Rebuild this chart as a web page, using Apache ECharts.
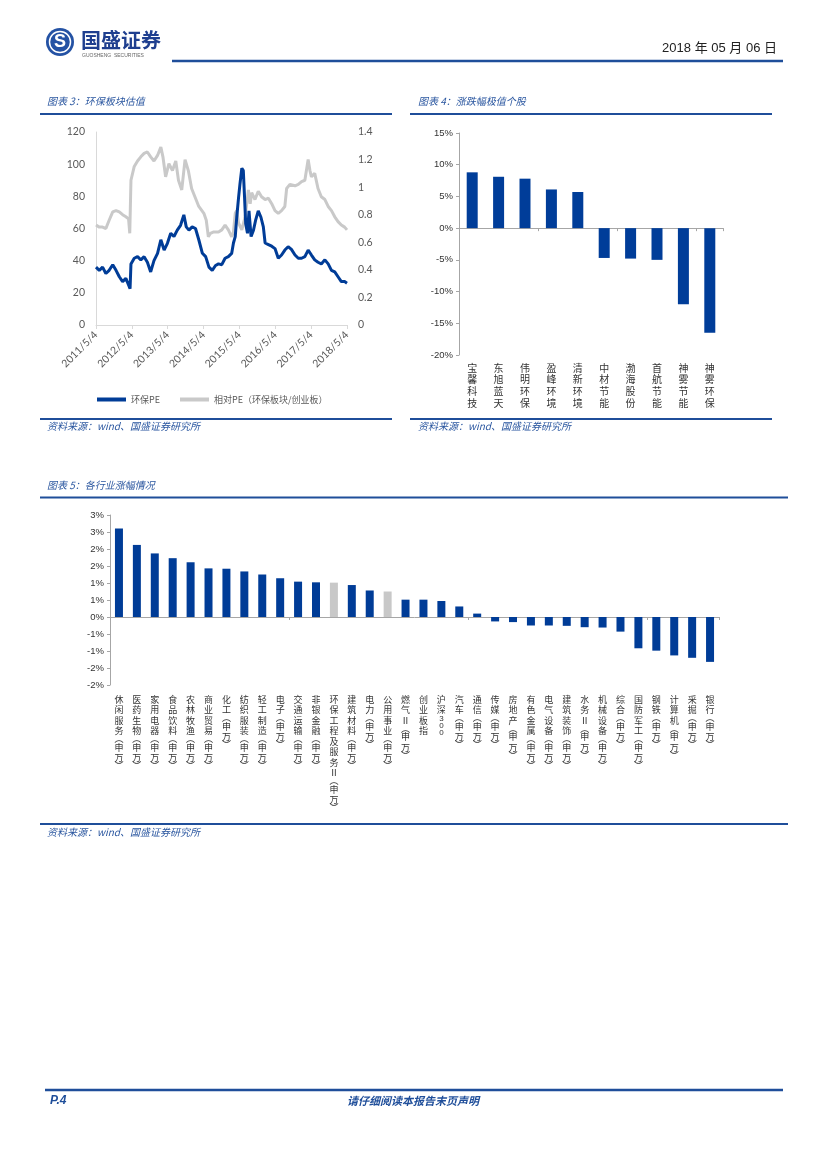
<!DOCTYPE html>
<html><head><meta charset="utf-8">
<script src="https://cdn.jsdelivr.net/npm/echarts@6/dist/echarts.min.js"></script>
<style>html,body{margin:0;padding:0;background:#fff}#c{width:827px;height:1169px}</style>
</head><body><div id="c"></div>
<script>
// ---- 图表3 data (x = months since 2011/5/4) ----
const peMonths = [0,1.1,2.2,3.3,4.4,5.6,6.7,7.8,8.9,10,11.1,11.4,11.7,12.8,13.9,15,16.1,17.2,18.3,19.4,20.6,21.7,22.8,23.9,25,26.1,27.2,28.3,29.4,30.2,31.1,32.2,33.3,34.4,35.6,36.7,37.8,38.9,40,41,42.1,43.2,44.3,45.4,46,46.6,47.1,47.7,48.2,48.8,49.3,49.7,50.1,50.7,51.2,51.9,52.7,53.4,54.3,55.2,56,56.6,57.7,58.8,59.9,61,62.1,63.2,64.3,65.4,66.6,67.7,68.8,69.9,71,72.1,73.2,74.3,75.4,76.6,77.7,78.8,79.9,81,82.1,83.2,84];
const peValues = [36,34,36,32,34,37.5,34,30,27,29,24,22.5,38,41.5,42.5,40.5,42.5,39,33,40,44.5,53,46.6,50.8,57,55,59,62,68.5,61,59,61,60,53,44.6,42.5,36,34,37,38,37.5,41.5,42.5,44.5,51,55,67,79,88,97.5,96,80,63,57,71,55,59,65,71,67,61,51,50,49,47.5,41.5,43.5,46.6,48.7,47,43.5,41.5,41.5,42.5,46.6,43.5,40.5,39,38,40.5,38,34,33,30,27,27,26];
const relMonths = [0,1.1,2.2,3.3,4.4,5.6,6.7,7.8,8.9,10,10.9,11.3,11.7,12.8,13.9,15,16.1,17.2,18.3,19.4,20.6,21.7,22.4,23.3,24.4,25.6,26.7,27.6,28.7,29.8,30.9,32,33.1,34.4,36.1,36.9,37.6,38.3,39.4,41,42.1,43.2,44.3,45.4,46,46.6,47.1,47.7,48.8,49.9,50.4,51,51.6,52.1,53.2,54.3,55.4,56.6,57.7,58.8,59.9,61,62.1,63.2,63.8,64.9,66.6,67.7,68.8,69.9,71,71.6,72.1,73.2,74.3,75.4,76.6,77.7,78.8,79.9,81,82.1,83.2,84];
const relValues = [0.725,0.71,0.71,0.70,0.76,0.82,0.83,0.82,0.80,0.785,0.77,0.665,1.05,1.15,1.19,1.22,1.245,1.255,1.22,1.19,1.23,1.29,1.22,1.075,1.17,1.12,1.19,1.05,0.98,1.2,1.12,0.99,0.93,0.86,0.81,0.76,0.64,0.665,0.675,0.675,0.69,0.725,0.69,0.64,0.675,0.81,0.83,0.74,0.69,0.785,0.785,0.98,0.88,0.96,0.91,0.97,0.93,0.91,0.92,0.88,0.83,0.81,0.83,0.86,0.99,1.02,1.01,1.02,1.04,1.05,1.2,1.12,1.075,1.1,0.99,0.93,0.91,0.86,0.83,0.785,0.75,0.725,0.71,0.69];
const peYearTicks = ['2011/5/4','2012/5/4','2013/5/4','2014/5/4','2015/5/4','2016/5/4','2017/5/4','2018/5/4'];

// ---- 图表4 data ----
const stockNames = ['宝馨科技','东旭蓝天','伟明环保','盈峰环境','清新环境','中材节能','渤海股份','首航节能','神雾节能','神雾环保'];
const stockChanges = [8.8,8.1,7.8,6.1,5.7,-4.7,-4.8,-5.0,-12.0,-16.5];

// ---- 图表5 data ----
const industryNames = ['休闲服务(申万)','医药生物(申万)','家用电器(申万)','食品饮料(申万)','农林牧渔(申万)','商业贸易(申万)','化工(申万)','纺织服装(申万)','轻工制造(申万)','电子(申万)','交通运输(申万)','非银金融(申万)','环保工程及服务Ⅱ(申万)','建筑材料(申万)','电力(申万)','公用事业(申万)','燃气Ⅱ(申万)','创业板指','沪深300','汽车(申万)','通信(申万)','传媒(申万)','房地产(申万)','有色金属(申万)','电气设备(申万)','建筑装饰(申万)','水务Ⅱ(申万)','机械设备(申万)','综合(申万)','国防军工(申万)','钢铁(申万)','计算机(申万)','采掘(申万)','银行(申万)'];
const industryChanges = [2.60,2.12,1.87,1.73,1.61,1.43,1.42,1.34,1.25,1.14,1.04,1.02,1.01,0.94,0.78,0.75,0.51,0.51,0.47,0.31,0.10,-0.13,-0.15,-0.25,-0.25,-0.26,-0.30,-0.31,-0.43,-0.92,-0.99,-1.13,-1.20,-1.32];
const grayIndustries = ['环保工程及服务Ⅱ(申万)','公用事业(申万)'];

const BLUE = '#003C97', GRAYBAR = '#C8C8C8', TITLE = '#2B57A0', LINE = '#1F4E9A';
const CJK = '"Noto Sans CJK SC", sans-serif';

function vertLabel(name){
  const out = [];
  for (const ch of name){
    if (ch === '(') out.push('{p|︵}');
    else if (ch === ')') out.push('{p|︶}');
    else if (/[0-9]/.test(ch)) out.push('{d|' + ch + '}');
    else out.push('{c|' + ch + '}');
  }
  return out.join('\n');
}

const chart = echarts.init(document.getElementById('c'), null, {renderer:'canvas'});

function txt(x,y,text,o){
  return Object.assign({type:'text', x:x, y:y, style:Object.assign({text:text, fill:TITLE, fontSize:10, fontFamily:CJK, fontStyle:'italic', textVerticalAlign:'middle'}, o||{})});
}
function hl(x1,x2,y,w,c){
  return {type:'line', shape:{x1:x1,y1:y,x2:x2,y2:y}, style:{stroke:c||LINE, lineWidth:w||2}};
}

const graphics = [
  // header
  {type:'circle', shape:{cx:60, cy:42, r:14}, style:{fill:'#2452A4'}},
  {type:'circle', shape:{cx:60, cy:42, r:10.5}, style:{fill:'none', stroke:'#fff', lineWidth:1.5}},
  {type:'text', x:60, y:42, style:{text:'S', fill:'#fff', fontSize:18, fontWeight:'bold', fontFamily:'Liberation Sans', textAlign:'center', textVerticalAlign:'middle'}},
  {type:'text', x:81, y:40, style:{text:'国盛证券', fill:'#1F3F8F', fontSize:20, fontWeight:'bold', fontFamily:CJK, textVerticalAlign:'middle'}},
  {type:'text', x:82, y:56, style:{text:'GUOSHENG  SECURITIES', fill:'#666', fontSize:5, fontFamily:'Liberation Sans', textVerticalAlign:'middle'}},
  {type:'text', x:777, y:48, style:{text:'2018 年 05 月 06 日', fill:'#222', fontSize:13, fontFamily:'"Liberation Sans Narrow","Liberation Sans",'+CJK, textAlign:'right', textVerticalAlign:'middle'}},
  hl(172,783,61,2.5),
  // chart titles & rules
  txt(47,101,'图表 3：环保板块估值'),
  txt(418,101,'图表 4：涨跌幅极值个股'),
  hl(40,392,114,1.8), hl(410,772,114,1.8),
  hl(40,392,419,1.8), hl(410,772,419,1.8),
  txt(47,426,'资料来源：wind、国盛证券研究所'),
  txt(418,426,'资料来源：wind、国盛证券研究所'),
  txt(47,485,'图表 5：各行业涨幅情况'),
  hl(40,788,497.5,1.8), hl(40,788,824,1.8),
  txt(47,832,'资料来源：wind、国盛证券研究所'),
  // footer
  hl(45,783,1090,2.5),
  txt(50,1101,'P.4',{fontSize:12, fontWeight:'bold', fill:'#1F4E9A', fontFamily:'Liberation Sans'}),
  txt(413,1101,'请仔细阅读本报告末页声明',{fontSize:11, fontWeight:'bold', fill:'#1F4E9A', textAlign:'center'})
];

const axisGray = '#BFBFBF';
const option = {
  animation:false,
  textStyle:{fontFamily:CJK},
  graphic: graphics,
  legend:{
    left:92, top:390, itemWidth:29, itemHeight:4, itemGap:20, icon:'rect',
    textStyle:{fontSize:9, color:'#595959', fontFamily:CJK},
    data:['环保PE','相对PE（环保板块/创业板）']
  },
  grid:[
    {left:96, top:132, width:251, height:193},
    {left:459, top:133, width:264, height:222},
    {left:110, top:515, width:609, height:170}
  ],
  xAxis:[
    {gridIndex:0, type:'value', min:0, max:84, interval:12, splitLine:{show:false},
     axisLine:{lineStyle:{color:'#D9D9D9'}}, axisTick:{show:true, length:4, lineStyle:{color:'#D9D9D9'}},
     axisLabel:{rotate:45, margin:8, fontSize:10.5, color:'#595959', fontFamily:'Lato, "Liberation Sans"',
       formatter:function(v){ return peYearTicks[Math.round(v/12)] || ''; }}},
    {gridIndex:1, type:'category', data:stockNames, position:'bottom',
     axisLine:{onZero:true, lineStyle:{color:'#A6A6A6'}}, axisTick:{show:true, length:3, lineStyle:{color:'#A6A6A6'}},
     axisLabel:{show:false}},
    {gridIndex:1, type:'category', data:stockNames, position:'bottom',
     axisLine:{show:false, onZero:false}, axisTick:{show:false},
     axisLabel:{interval:0, margin:7, formatter:vertLabel,
       rich:{c:{fontSize:10, lineHeight:11.7, color:'#333', fontFamily:CJK}}}},
    {gridIndex:2, type:'category', data:industryNames, position:'bottom',
     axisLine:{onZero:true, lineStyle:{color:'#A6A6A6'}}, axisTick:{show:true, length:3, lineStyle:{color:'#A6A6A6'}},
     axisLabel:{show:false}},
    {gridIndex:2, type:'category', data:industryNames, position:'bottom',
     axisLine:{show:false, onZero:false}, axisTick:{show:false},
     axisLabel:{interval:0, margin:9, formatter:vertLabel,
       rich:{c:{fontSize:9, lineHeight:10.5, color:'#333', fontFamily:CJK},
             p:{fontSize:9, lineHeight:6, color:'#333', fontFamily:CJK},
             d:{fontSize:8, lineHeight:7, color:'#333', fontFamily:'Liberation Sans'}}}}
  ],
  yAxis:[
    {gridIndex:0, type:'value', min:0, max:120, interval:20, splitLine:{show:false},
     axisLine:{show:true, lineStyle:{color:'#D9D9D9'}}, axisTick:{show:false},
     axisLabel:{fontSize:10.5, color:'#595959', margin:11, fontFamily:'Lato, "Liberation Sans"'}},
    {gridIndex:0, type:'value', min:0, max:1.4, interval:0.2, position:'right', splitLine:{show:false},
     axisLine:{show:false}, axisTick:{show:false},
     axisLabel:{fontSize:10.5, color:'#595959', margin:11, fontFamily:'Lato, "Liberation Sans"',
       formatter:function(v){ return String(+v.toFixed(1)); }}},
    {gridIndex:1, type:'value', min:-20, max:15, interval:5, splitLine:{show:false},
     axisLine:{show:true, lineStyle:{color:'#A6A6A6'}}, axisTick:{show:true, length:3, lineStyle:{color:'#A6A6A6'}},
     axisLabel:{fontSize:9.5, color:'#333', margin:6, fontFamily:'Liberation Sans', formatter:'{value}%'}},
    {gridIndex:2, type:'value', min:-2, max:3, interval:0.5, splitLine:{show:false},
     axisLine:{show:true, lineStyle:{color:'#A6A6A6'}}, axisTick:{show:true, length:3, lineStyle:{color:'#A6A6A6'}},
     axisLabel:{fontSize:9.5, color:'#333', margin:6, fontFamily:'Liberation Sans',
       formatter:function(v){ const r = Math.sign(v)*Math.round(Math.abs(v)); return (r===0?0:r) + '%'; }}}
  ],
  series:[
    {name:'相对PE（环保板块/创业板）', type:'line', xAxisIndex:0, yAxisIndex:1, showSymbol:false, symbol:'none',
     data: relMonths.map((m,i)=>[m, relValues[i]]), lineStyle:{color:'#C9C9C9', width:3}, itemStyle:{color:'#C9C9C9'}, z:2},
    {name:'环保PE', type:'line', xAxisIndex:0, yAxisIndex:0, showSymbol:false, symbol:'none',
     data: peMonths.map((m,i)=>[m, peValues[i]]), lineStyle:{color:BLUE, width:3}, itemStyle:{color:BLUE}, z:3},
    {type:'bar', xAxisIndex:1, yAxisIndex:2, data:stockChanges, barWidth:11, itemStyle:{color:'#003D99'}},
    {type:'bar', xAxisIndex:3, yAxisIndex:3, barWidth:8,
     data: industryChanges.map((v,i)=>({value:v, itemStyle:{color: grayIndustries.indexOf(industryNames[i])>=0 ? GRAYBAR : BLUE}}))}
  ]
};
// legend order: blue first
option.legend.data = ['环保PE','相对PE（环保板块/创业板）'];
chart.setOption(option);
</script>
</body></html>
